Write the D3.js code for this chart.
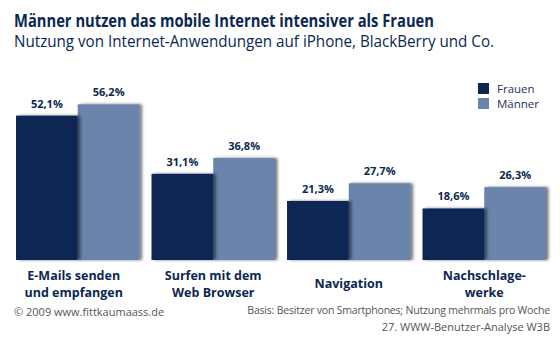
<!DOCTYPE html>
<html lang="de">
	<head>
		<meta charset="utf-8">
		<title>Männer nutzen das mobile Internet intensiver als Frauen</title>
		<script type="text/javascript" src="https://d3js.org/d3.v7.min.js"></script>
		<style type="text/css">
			body { margin: 0; background: #fff; }
			text { font-family: "Open Sans", sans-serif; }
		</style>
	</head>
	<body>
		<script type="text/javascript">

			// data
			var categories = [["E-Mails senden", "und empfangen"], ["Surfen mit dem", "Web Browser"], ["Navigation"], ["Nachschlage-", "werke"]];
			var seriesNames = ["Frauen", "Männer"];
			var frauen = [52.1, 31.1, 21.3, 18.6];
			var maenner = [56.2, 36.8, 27.7, 26.3];

			var w = 560;
			var h = 350;
			var navy = "#0a2852";
			var colors = ["#0a2852", "#6b84ab"];

			var svg = d3.select("body")
						.append("svg")
						.attr("width", w)
						.attr("height", h);

			// shadow filter for the bars
			var defs = svg.append("defs");
			var f = defs.append("filter").attr("id", "shadow")
						.attr("x", "-10%").attr("y", "-10%").attr("width", "130%").attr("height", "130%");
			f.append("feDropShadow")
				.attr("dx", 2.5).attr("dy", 0)
				.attr("stdDeviation", 1.4)
				.attr("flood-color", "#000")
				.attr("flood-opacity", 0.55);

			// shrink a text to a given width if it is too wide
			function fit(sel, width){
				sel.each(function(){
					if(this.getComputedTextLength() > width){
						d3.select(this).attr("textLength", width).attr("lengthAdjust", "spacingAndGlyphs");
					}
				});
			}

			// titles
			svg.append("text")
				.attr("x", 14).attr("y", 27)
				.attr("fill", navy)
				.style("font-size", "17px").style("font-weight", "bold")
				.text("Männer nutzen das mobile Internet intensiver als Frauen")
				.call(fit, 420);

			svg.append("text")
				.attr("x", 14).attr("y", 47)
				.attr("fill", navy)
				.style("font-size", "16px")
				.text("Nutzung von Internet-Anwendungen auf iPhone, BlackBerry und Co.")
				.call(fit, 480);

			// scales
			var x0 = d3.scaleBand()
						.domain(d3.range(categories.length))
						.range([16, 546])
						.paddingInner(0.089)
						.paddingOuter(0);

			var x1 = d3.scaleBand()
						.domain(seriesNames)
						.range([0, x0.bandwidth()]);

			var y = d3.scaleLinear()
						.domain([0, 60])
						.range([260, 260 - 60 * 2.77]);

			var rows = categories.map(function(c, i){
				return { i: i, values: [frauen[i], maenner[i]] };
			});

			var groups = svg.selectAll("g.group")
							.data(rows)
							.enter()
							.append("g")
							.attr("class", "group")
							.attr("transform", function(d){ return "translate(" + x0(d.i) + ",0)"; });

			// Männer first so Frauen sits on top of its shadow
			groups.selectAll("rect")
				.data(function(d){ return d.values.map(function(v, k){ return { k: k, v: v }; }).reverse(); })
				.enter()
				.append("rect")
				.attr("x", function(d){ return x1(seriesNames[d.k]); })
				.attr("y", function(d){ return y(d.v); })
				.attr("width", x1.bandwidth())
				.attr("height", function(d){ return y(0) - y(d.v); })
				.attr("fill", function(d){ return colors[d.k]; })
				.attr("filter", "url(#shadow)");

			// value labels
			groups.selectAll("text.val")
				.data(function(d){ return d.values.map(function(v, k){ return { k: k, v: v }; }); })
				.enter()
				.append("text")
				.attr("class", "val")
				.attr("x", function(d){ return x1(seriesNames[d.k]) + x1.bandwidth() / 2; })
				.attr("y", function(d){ return y(d.v) - 8; })
				.attr("text-anchor", "middle")
				.attr("fill", navy)
				.style("font-size", "11px").style("font-weight", "bold")
				.text(function(d){ return d3.format(".1f")(d.v).replace(".", ",") + "%"; });

			// category labels
			groups.each(function(d){
				var lines = categories[d.i];
				var g = d3.select(this);
				var y0 = lines.length == 1 ? 288 : 280;
				lines.forEach(function(l, j){
					g.append("text")
						.attr("x", x0.bandwidth() / 2 - (d.i == 0 ? 4 : 0))
						.attr("y", y0 + j * 17)
						.attr("text-anchor", "middle")
						.attr("fill", navy)
						.style("font-size", "12.5px").style("font-weight", "bold")
						.text(l);
				});
			});

			// legend
			var legend = svg.selectAll("g.legend")
							.data(seriesNames)
							.enter()
							.append("g")
							.attr("class", "legend")
							.attr("transform", function(d, i){ return "translate(478," + (83 + i * 15) + ")"; });

			legend.append("rect")
				.attr("width", 11).attr("height", 11)
				.attr("fill", function(d, i){ return colors[i]; });

			legend.append("text")
				.attr("x", 19).attr("y", 10)
				.attr("fill", "#1c3358")
				.style("font-size", "11.5px")
				.text(function(d){ return d; });

			// footer
			svg.append("text")
				.attr("x", 14).attr("y", 316)
				.attr("fill", "#555")
				.style("font-size", "11px")
				.text("© 2009 www.fittkaumaass.de");

			svg.append("text")
				.attr("x", 550).attr("y", 314)
				.attr("text-anchor", "end")
				.attr("fill", "#555")
				.style("font-size", "10.5px")
				.style("letter-spacing", "-0.2px")
				.text("Basis: Besitzer von Smartphones; Nutzung mehrmals pro Woche");

			svg.append("text")
				.attr("x", 550).attr("y", 331)
				.attr("text-anchor", "end")
				.attr("fill", "#555")
				.style("font-size", "11px")
				.text("27. WWW-Benutzer-Analyse W3B");

		</script>
	</body>
</html>
